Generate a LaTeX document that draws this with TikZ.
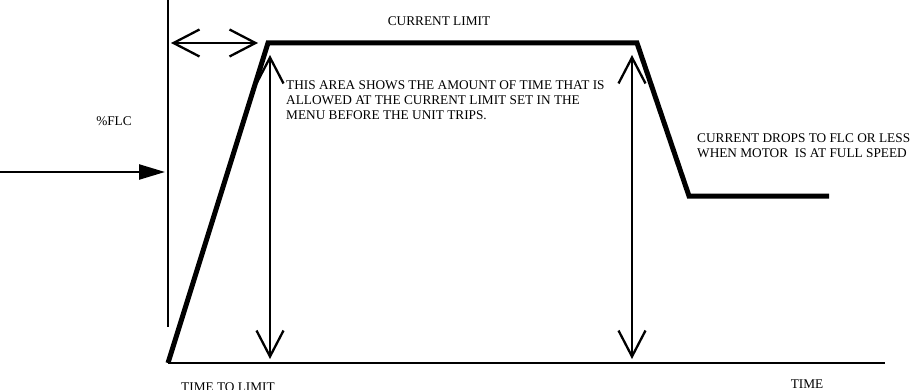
\documentclass[tikz,border=0pt]{standalone}
\usepackage{fontspec}
\setmainfont{Liberation Serif}
\usetikzlibrary{arrows.meta,positioning}

\begin{document}
\begin{tikzpicture}[x=1pt,y=-1pt]
\tikzstyle{label} = [inner sep=0pt, font=\fontsize{13.3}{15.2}\selectfont, align=left];
\tikzstyle{curve} = [draw, line width=5pt, line join=miter];
\tikzstyle{axis} = [draw, line width=2.6pt];
\tikzstyle{span} = [draw, line width=2.3pt, {Straight Barb[length=26pt,width=27pt]}-{Straight Barb[length=26pt,width=27pt]}];
\tikzstyle{feed} = [draw, line width=2.4pt, -{Triangle[length=26pt,width=15pt]}];

\useasboundingbox (0,0) rectangle (912,390);

	% axes
	\coordinate (ytop) at (168,0);
	\coordinate (ybot) at (168,327);
	\coordinate (origin) at (168,363);
	\coordinate (xend) at (885,363);
	\path[axis] (ytop) -- (ybot);
	\path[axis] (origin) -- (xend);

	% current profile
	\coordinate (rise) at (268,43);
	\coordinate (fall) at (637,43);
	\coordinate (floor) at (689,196);
	\coordinate (finish) at (829,196);
	\path[curve] (origin) -- (rise) -- (fall) -- (floor) -- (finish);

	% arrows
	\coordinate (feed in) at (0,172);
	\coordinate (feed tip) at (165,172);
	\path[feed] (feed in) -- (feed tip);
	\coordinate (ramp a) at (171,43);
	\coordinate (ramp b) at (258,43);
	\path[span] (ramp a) -- (ramp b);
	\coordinate (hold a) at (270,55);
	\coordinate (hold b) at (270,359);
	\path[span] (hold a) -- (hold b);
	\coordinate (trip a) at (632,55);
	\coordinate (trip b) at (632,359);
	\path[span] (trip a) -- (trip b);

	% texts (base of a multi-line node = last line)
	\node[label, anchor=base] (limit) at (439,25.7) {CURRENT LIMIT};
	\node[label, anchor=base] (flc) at (114,126) {\%FLC};
	\node[label, anchor=base west] (area) at (286,119.5) {THIS AREA SHOWS THE AMOUNT OF TIME THAT IS\\ALLOWED AT THE CURRENT LIMIT SET IN THE\\MENU BEFORE THE UNIT TRIPS.};
	\node[label, anchor=base west] (drops) at (697,158) {CURRENT DROPS TO FLC OR LESS\\WHEN MOTOR\ \ IS AT FULL SPEED};
	\node[label, anchor=base] (ttl) at (228,391) {TIME TO LIMIT};
	\node[label, anchor=base] (time) at (807,388) {TIME};
\end{tikzpicture}
\end{document}
